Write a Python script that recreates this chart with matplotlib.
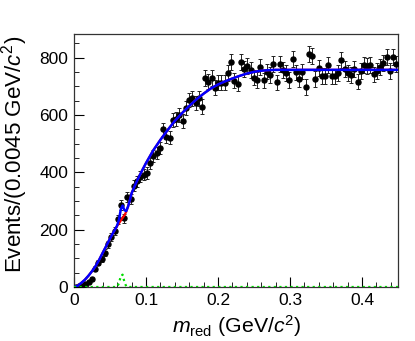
import numpy as np
import matplotlib
matplotlib.use("Agg")
import matplotlib.pyplot as plt
from matplotlib.ticker import MultipleLocator

plt.rcParams['font.family'] = ['Liberation Sans', 'DejaVu Sans']
plt.rcParams['mathtext.fontset'] = 'custom'
plt.rcParams['mathtext.rm'] = 'Liberation Sans'
plt.rcParams['mathtext.it'] = 'Liberation Sans:italic'
plt.rcParams['mathtext.bf'] = 'Liberation Sans:bold'

# ---- data: histogram of m_red, 100 bins of 0.0045 GeV/c^2 from 0 to 0.45
bin_width = 0.0045
x_min = 0.0
counts = [
    1, 3, 5, 10, 18, 27, 64, 85, 98, 120,
    149, 175, 196, 236, 287, 240, 315, 306, 353, 368,
    384, 392, 398, 431, 456, 467, 485, 550, 524, 520,
    581, 587, 600, 578, 623, 652, 658, 641, 658, 629,
    728, 716, 728, 695, 712, 712, 712, 745, 783, 719,
    709, 784, 760, 772, 757, 730, 722, 768, 720, 751,
    739, 778, 713, 778, 757, 745, 722, 795, 748, 725,
    751, 697, 813, 806, 725, 763, 736, 736, 774, 734,
    734, 745, 792, 760, 745, 739, 759, 716, 753, 775,
    771, 774, 741, 752, 767, 782, 803, 753, 803, 778,
]

# ---- fit curves
curve_x = [0, 0.005, 0.01, 0.015, 0.02, 0.025, 0.03, 0.035, 0.04, 0.045,
           0.05, 0.055, 0.0575, 0.06, 0.0625, 0.065, 0.0675, 0.07, 0.0725, 0.075,
           0.0775, 0.08, 0.085, 0.09, 0.095, 0.1, 0.11, 0.12, 0.13, 0.14,
           0.15, 0.16, 0.17, 0.18, 0.19, 0.2, 0.21, 0.22, 0.23, 0.24,
           0.25, 0.26, 0.27, 0.28, 0.3, 0.35, 0.4, 0.45]
bkg_y = [0, 4, 14, 25, 39, 55, 73, 95, 120, 144,
         169, 192, 203, 213, 222, 232, 241, 250, 262, 280,
         302, 327, 356, 383, 408, 432, 476, 513, 547, 579,
         606, 631, 654, 674, 692, 706, 717, 727, 736, 744,
         750, 754, 756, 757, 757, 757, 757, 757]
sig_y = [0, 0, 0, 0, 0, 0, 0, 0, 0, 0,
         0, 0, 0, 1.6, 13, 39, 43, 18, 2.6, 0,
         0, 0, 0, 0, 0, 0, 0, 0, 0, 0,
         0, 0, 0, 0, 0, 0, 0, 0, 0, 0,
         0, 0, 0, 0, 0, 0, 0, 0]

x_label = r"$m_{\mathrm{red}}$ (GeV/$c^{2}$)"
y_label = r"Events/(0.0045 GeV/$c^{2}$)"

counts = np.array(counts, dtype=float)
centers = x_min + bin_width * (np.arange(len(counts)) + 0.5)
errs = np.sqrt(counts)
cx = np.array(curve_x)
bkg = np.array(bkg_y)
sig = np.array(sig_y)
tot = bkg + sig

W, H = 415, 341
fig = plt.figure(figsize=(W/100, H/100), dpi=100)
ax = fig.add_axes([74/W, 1-287/H, (398-74)/W, (287-34)/H])

ax.errorbar(centers, counts, yerr=errs, fmt='o', color='black', ms=3.6,
            elinewidth=0.7, capsize=1.2, capthick=0.7, ecolor='#222222', zorder=3)
ax.plot(cx, bkg, color='#ff0000', lw=1.6, zorder=4)
ax.plot(cx, tot, color='#0000ff', lw=1.8, zorder=5)
ax.plot(cx, sig, color='#00dd00', lw=1.6, ls=(0, (1, 1.5)), zorder=6)

ax.set_xlim(0, 0.45)
ax.set_ylim(0, 882)
ax.xaxis.set_minor_locator(MultipleLocator(0.02))
ax.yaxis.set_major_locator(MultipleLocator(200))
ax.yaxis.set_minor_locator(MultipleLocator(50))
ax.set_xticks([0, 0.1, 0.2, 0.3, 0.4])
ax.set_xticklabels(['0', '0.1', '0.2', '0.3', '0.4'])
ax.tick_params(which='both', direction='in', top=False, right=False, labelsize=12.5)
ax.tick_params(which='major', length=7, width=0.8, pad=4)
ax.tick_params(which='minor', length=3.5, width=0.6)
for s in ax.spines.values():
    s.set_linewidth(0.9)
    s.set_color('#333333')

# axis titles placed in figure pixels, sized to match the reference extents
renderer = fig.canvas.get_renderer()
tx = fig.text(237/W, 1-326/H, x_label, ha='center', va='center', fontsize=14)
ty = fig.text(15/W, 1-154/H, y_label, ha='center', va='center', fontsize=14, rotation=90)
for t, target, horiz in ((tx, 130, True), (ty, 238, False)):
    bb = t.get_window_extent(renderer)
    cur = bb.width if horiz else bb.height
    t.set_fontsize(t.get_fontsize() * target / cur)

fig.savefig('out.png', dpi=100)
